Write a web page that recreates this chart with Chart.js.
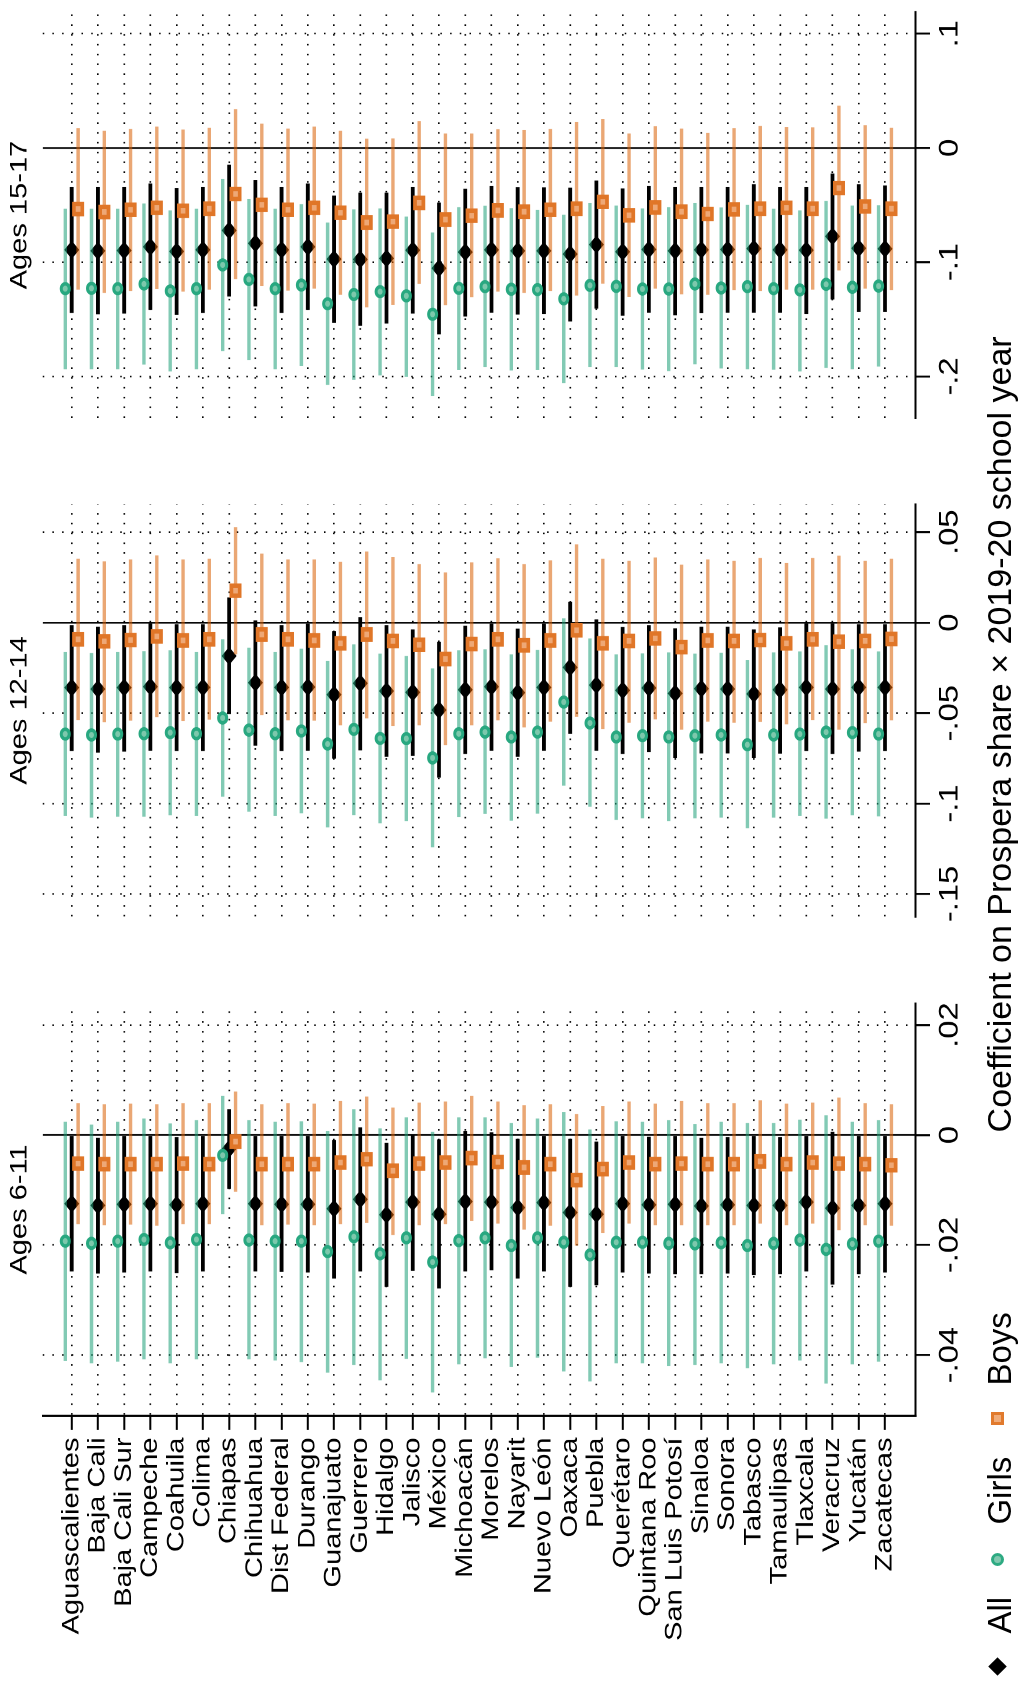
<!DOCTYPE html>
<html>
<head>
<meta charset="utf-8">
<title>Prospera coefficients by state</title>
<script src="https://cdn.jsdelivr.net/npm/chart.js@4.4.1/dist/chart.umd.min.js"></script>
<style>
  html, body { margin: 0; padding: 0; background: #fff; }
  body { width: 1025px; height: 1686px; overflow: hidden; position: relative;
         font-family: 'Liberation Sans', Arial, Helvetica, sans-serif; color: #000; }
  /* the figure is laid out landscape, then turned to read bottom-to-top */
  #panels { position: absolute; left: 0; top: 0; width: 1393.4px; height: 1025px;
            transform-origin: 0 0; transform: translateY(1686px) rotate(-90deg) scaleX(1.21); }
  #panels canvas { position: absolute; top: 0; }
  #overlay { position: absolute; left: 0; top: 0; width: 1686px; height: 1025px;
             transform-origin: 0 0; transform: translateY(1686px) rotate(-90deg); }
  #xtitle { position: absolute; left: 451.6px; width: 1000px; top: 981.7px; text-align: center;
            font-size: 34px; line-height: 34px; white-space: nowrap; }
  .lg { position: absolute; top: 982.6px; font-size: 33px; line-height: 33px; white-space: nowrap; }
  .mk { position: absolute; box-sizing: border-box; }
</style>
</head>
<body>
<div id="panels">
  <canvas id="c611" width="590" height="1025" style="left:0px"></canvas>
  <canvas id="c1214" width="400" height="1025" style="left:605px"></canvas>
  <canvas id="c1517" width="379" height="1025" style="left:1014px"></canvas>
</div>
<div id="overlay">
  <div id="xtitle">Coefficient on Prospera share × 2019-20 school year</div>
  <div class="mk" style="left:12.8px;top:990.5px;width:13px;height:13px;background:#000;transform:rotate(45deg)"></div>
  <div class="lg" style="left:52.5px">All</div>
  <div class="mk" style="left:120.2px;top:990.5px;width:13px;height:13px;border-radius:50%;background:rgb(130,200,175);border:3px solid rgb(45,170,130)"></div>
  <div class="lg" style="left:161.4px">Girls</div>
  <div class="mk" style="left:261.2px;top:990.5px;width:13px;height:13px;background:rgb(240,172,122);border:3.5px solid rgb(225,122,45)"></div>
  <div class="lg" style="left:300.4px">Boys</div>
</div>
<script>
const states = ['Aguascalientes', 'Baja Cali', 'Baja Cali Sur', 'Campeche', 'Coahuila', 'Colima',
  'Chiapas', 'Chihuahua', 'Dist Federal', 'Durango', 'Guanajuato', 'Guerrero', 'Hidalgo', 'Jalisco',
  'México', 'Michoacán', 'Morelos', 'Nayarit', 'Nuevo León', 'Oaxaca', 'Puebla', 'Querétaro',
  'Quintana Roo', 'San Luis Potosí', 'Sinaloa', 'Sonora', 'Tabasco', 'Tamaulipas', 'Tlaxcala',
  'Veracruz', 'Yucatán', 'Zacatecas'];

// Ages 6-11: point estimates and 95% CI bounds
const allEst611 = [-0.0125,-0.0128,-0.0126,-0.0125,-0.0127,-0.0125,-0.0025,-0.0125,-0.0126,-0.0126,-0.0134,-0.0117,-0.0145,-0.0122,-0.0144,-0.0121,-0.0122,-0.0132,-0.0123,-0.0141,-0.0144,-0.0125,-0.0127,-0.0126,-0.0129,-0.0127,-0.0128,-0.0128,-0.0122,-0.0133,-0.0128,-0.0125];
const allLo611 = [-0.0248,-0.0252,-0.0250,-0.0248,-0.0251,-0.0248,-0.0098,-0.0248,-0.0249,-0.0250,-0.0261,-0.0248,-0.0276,-0.0247,-0.0279,-0.0248,-0.0246,-0.0261,-0.0248,-0.0276,-0.0273,-0.0250,-0.0252,-0.0253,-0.0253,-0.0252,-0.0255,-0.0253,-0.0248,-0.0272,-0.0253,-0.0250];
const allHi611 = [-0.0002,-0.0005,-0.0002,-0.0002,-0.0004,-0.0002,0.0047,-0.0002,-0.0002,-0.0002,-0.0009,0.0014,-0.0014,0.0001,-0.0008,0.0007,0.0005,-0.0007,-0.0002,-0.0007,-0.0012,-0.0002,-0.0003,-0.0002,-0.0005,-0.0004,-0.0002,-0.0004,-0.0002,0.0006,-0.0002,-0.0002];
const girlsEst611 = [-0.0193,-0.0197,-0.0193,-0.0190,-0.0196,-0.0190,-0.0037,-0.0191,-0.0193,-0.0193,-0.0212,-0.0185,-0.0216,-0.0187,-0.0231,-0.0192,-0.0187,-0.0201,-0.0187,-0.0195,-0.0218,-0.0195,-0.0195,-0.0197,-0.0198,-0.0196,-0.0201,-0.0197,-0.0191,-0.0208,-0.0198,-0.0193];
const girlsLo611 = [-0.0411,-0.0415,-0.0412,-0.0408,-0.0415,-0.0408,-0.0144,-0.0408,-0.0410,-0.0413,-0.0432,-0.0418,-0.0446,-0.0407,-0.0468,-0.0417,-0.0406,-0.0422,-0.0405,-0.0430,-0.0448,-0.0415,-0.0415,-0.0420,-0.0418,-0.0415,-0.0424,-0.0417,-0.0410,-0.0452,-0.0417,-0.0412];
const girlsHi611 = [0.0024,0.0019,0.0024,0.0030,0.0021,0.0027,0.0071,0.0027,0.0024,0.0025,0.0007,0.0047,0.0012,0.0032,0.0006,0.0032,0.0032,0.0022,0.0030,0.0042,0.0010,0.0025,0.0024,0.0027,0.0020,0.0024,0.0022,0.0022,0.0028,0.0036,0.0024,0.0027];
const boysEst611 = [-0.0052,-0.0053,-0.0053,-0.0053,-0.0052,-0.0053,-0.0012,-0.0053,-0.0053,-0.0053,-0.0050,-0.0044,-0.0065,-0.0052,-0.0050,-0.0042,-0.0049,-0.0059,-0.0053,-0.0082,-0.0062,-0.0050,-0.0053,-0.0052,-0.0053,-0.0053,-0.0048,-0.0053,-0.0050,-0.0052,-0.0053,-0.0055];
const boysLo611 = [-0.0162,-0.0164,-0.0163,-0.0165,-0.0162,-0.0162,-0.0103,-0.0164,-0.0163,-0.0164,-0.0162,-0.0160,-0.0182,-0.0164,-0.0162,-0.0156,-0.0161,-0.0172,-0.0165,-0.0201,-0.0178,-0.0161,-0.0164,-0.0164,-0.0164,-0.0164,-0.0161,-0.0164,-0.0161,-0.0173,-0.0164,-0.0165];
const boysHi611 = [0.0058,0.0056,0.0057,0.0056,0.0058,0.0058,0.0079,0.0056,0.0058,0.0057,0.0062,0.0070,0.0050,0.0059,0.0061,0.0071,0.0061,0.0054,0.0056,0.0038,0.0053,0.0061,0.0057,0.0062,0.0058,0.0058,0.0063,0.0057,0.0059,0.0068,0.0058,0.0056];

// Ages 12-14
const allEst1214 = [-0.0359,-0.0367,-0.0359,-0.0354,-0.0359,-0.0358,-0.0184,-0.0332,-0.0358,-0.0356,-0.0398,-0.0335,-0.0378,-0.0385,-0.0483,-0.0371,-0.0354,-0.0387,-0.0358,-0.0247,-0.0345,-0.0374,-0.0361,-0.0391,-0.0365,-0.0367,-0.0394,-0.0371,-0.0358,-0.0367,-0.0358,-0.0358];
const allLo1214 = [-0.0710,-0.0719,-0.0713,-0.0708,-0.0710,-0.0710,-0.0505,-0.0680,-0.0710,-0.0708,-0.0752,-0.0706,-0.0741,-0.0737,-0.0857,-0.0726,-0.0708,-0.0741,-0.0708,-0.0614,-0.0708,-0.0726,-0.0715,-0.0748,-0.0723,-0.0723,-0.0748,-0.0724,-0.0710,-0.0726,-0.0713,-0.0710];
const allHi1214 = [-0.0013,-0.0022,-0.0013,-0.0004,-0.0009,-0.0009,0.0140,0.0013,-0.0013,-0.0006,-0.0046,0.0031,-0.0013,-0.0037,-0.0105,-0.0017,-0.0006,-0.0033,-0.0006,0.0116,0.0018,-0.0024,-0.0013,-0.0031,-0.0022,-0.0022,-0.0037,-0.0026,-0.0004,-0.0004,-0.0009,-0.0009];
const girlsEst1214 = [-0.0616,-0.0621,-0.0616,-0.0614,-0.0608,-0.0614,-0.0527,-0.0594,-0.0614,-0.0599,-0.0671,-0.0590,-0.0640,-0.0641,-0.0748,-0.0614,-0.0605,-0.0632,-0.0605,-0.0439,-0.0555,-0.0632,-0.0625,-0.0632,-0.0625,-0.0621,-0.0675,-0.0621,-0.0616,-0.0605,-0.0608,-0.0616];
const girlsLo1214 = [-0.1069,-0.1078,-0.1073,-0.1073,-0.1065,-0.1069,-0.0962,-0.1045,-0.1069,-0.1054,-0.1132,-0.1064,-0.1110,-0.1097,-0.1242,-0.1076,-0.1058,-0.1095,-0.1056,-0.0901,-0.1018,-0.1091,-0.1082,-0.1097,-0.1082,-0.1078,-0.1137,-0.1078,-0.1069,-0.1084,-0.1065,-0.1071];
const girlsHi1214 = [-0.0162,-0.0168,-0.0162,-0.0157,-0.0153,-0.0162,-0.0092,-0.0138,-0.0162,-0.0144,-0.0212,-0.0120,-0.0171,-0.0184,-0.0253,-0.0153,-0.0147,-0.0175,-0.0151,0.0024,-0.0087,-0.0175,-0.0170,-0.0164,-0.0171,-0.0166,-0.0206,-0.0164,-0.0159,-0.0124,-0.0147,-0.0159];
const boysEst1214 = [-0.0092,-0.0103,-0.0096,-0.0076,-0.0098,-0.0092,0.0177,-0.0065,-0.0092,-0.0098,-0.0114,-0.0065,-0.0101,-0.0122,-0.0201,-0.0118,-0.0092,-0.0125,-0.0098,-0.0042,-0.0114,-0.0101,-0.0087,-0.0135,-0.0098,-0.0101,-0.0096,-0.0114,-0.0092,-0.0105,-0.0101,-0.0090];
const boysLo1214 = [-0.0538,-0.0551,-0.0542,-0.0522,-0.0544,-0.0536,-0.0175,-0.0511,-0.0540,-0.0542,-0.0568,-0.0529,-0.0571,-0.0568,-0.0678,-0.0568,-0.0540,-0.0579,-0.0547,-0.0520,-0.0588,-0.0553,-0.0535,-0.0592,-0.0547,-0.0553,-0.0549,-0.0562,-0.0538,-0.0592,-0.0555,-0.0540];
const boysHi1214 = [0.0354,0.0339,0.0350,0.0372,0.0350,0.0354,0.0529,0.0382,0.0350,0.0350,0.0337,0.0394,0.0363,0.0324,0.0278,0.0334,0.0356,0.0324,0.0345,0.0433,0.0354,0.0343,0.0361,0.0321,0.0350,0.0343,0.0358,0.0330,0.0358,0.0371,0.0343,0.0354];

// Ages 15-17
const allEst1517 = [-0.0892,-0.0901,-0.0898,-0.0866,-0.0906,-0.0892,-0.0722,-0.0835,-0.0892,-0.0866,-0.0973,-0.0976,-0.0967,-0.0895,-0.1053,-0.0912,-0.0892,-0.0901,-0.0901,-0.0929,-0.0846,-0.0909,-0.0889,-0.0901,-0.0892,-0.0889,-0.0881,-0.0892,-0.0895,-0.0774,-0.0878,-0.0883];
const allLo1517 = [-0.1445,-0.1456,-0.1450,-0.1419,-0.1462,-0.1445,-0.1301,-0.1387,-0.1445,-0.1419,-0.1531,-0.1557,-0.1537,-0.1450,-0.1632,-0.1476,-0.1442,-0.1459,-0.1453,-0.1519,-0.1407,-0.1468,-0.1442,-0.1465,-0.1447,-0.1442,-0.1442,-0.1442,-0.1453,-0.1327,-0.1436,-0.1436];
const allHi1517 = [-0.0340,-0.0340,-0.0340,-0.0311,-0.0351,-0.0340,-0.0147,-0.0282,-0.0340,-0.0311,-0.0417,-0.0391,-0.0391,-0.0340,-0.0478,-0.0357,-0.0334,-0.0342,-0.0345,-0.0348,-0.0285,-0.0354,-0.0334,-0.0340,-0.0340,-0.0340,-0.0317,-0.0340,-0.0340,-0.0224,-0.0317,-0.0328];
const girlsEst1517 = [-0.1232,-0.1229,-0.1232,-0.1191,-0.1252,-0.1232,-0.1024,-0.1151,-0.1232,-0.1200,-0.1364,-0.1283,-0.1258,-0.1295,-0.1456,-0.1229,-0.1214,-0.1237,-0.1240,-0.1321,-0.1203,-0.1212,-0.1235,-0.1235,-0.1191,-0.1226,-0.1214,-0.1232,-0.1243,-0.1194,-0.1220,-0.1209];
const girlsLo1517 = [-0.1937,-0.1937,-0.1937,-0.1896,-0.1957,-0.1937,-0.1778,-0.1856,-0.1937,-0.1908,-0.2075,-0.2029,-0.1991,-0.2003,-0.2173,-0.1945,-0.1919,-0.1948,-0.1945,-0.2058,-0.1919,-0.1919,-0.1940,-0.1954,-0.1894,-0.1931,-0.1937,-0.1942,-0.1957,-0.1925,-0.1937,-0.1914];
const girlsHi1517 = [-0.0532,-0.0532,-0.0532,-0.0486,-0.0547,-0.0532,-0.0271,-0.0446,-0.0532,-0.0492,-0.0653,-0.0538,-0.0529,-0.0601,-0.0740,-0.0518,-0.0506,-0.0527,-0.0541,-0.0584,-0.0483,-0.0504,-0.0529,-0.0518,-0.0483,-0.0521,-0.0498,-0.0532,-0.0547,-0.0463,-0.0504,-0.0501];
const boysEst1517 = [-0.0535,-0.0561,-0.0541,-0.0524,-0.0550,-0.0532,-0.0403,-0.0498,-0.0541,-0.0524,-0.0567,-0.0653,-0.0645,-0.0481,-0.0627,-0.0593,-0.0547,-0.0558,-0.0541,-0.0532,-0.0472,-0.0590,-0.0521,-0.0558,-0.0578,-0.0538,-0.0532,-0.0524,-0.0532,-0.0351,-0.0512,-0.0532];
const boysLo1517 = [-0.1240,-0.1269,-0.1252,-0.1235,-0.1258,-0.1240,-0.1148,-0.1209,-0.1249,-0.1232,-0.1286,-0.1396,-0.1373,-0.1191,-0.1376,-0.1306,-0.1258,-0.1269,-0.1252,-0.1292,-0.1188,-0.1304,-0.1232,-0.1281,-0.1286,-0.1246,-0.1252,-0.1240,-0.1240,-0.1073,-0.1232,-0.1246];
const boysHi1517 = [0.0173,0.0150,0.0167,0.0187,0.0161,0.0176,0.0340,0.0213,0.0170,0.0187,0.0150,0.0081,0.0083,0.0236,0.0127,0.0127,0.0164,0.0158,0.0167,0.0227,0.0253,0.0127,0.0190,0.0170,0.0132,0.0173,0.0193,0.0184,0.0181,0.0371,0.0199,0.0176];

// axis ticks for each age group
const ticks611 = [-0.04, -0.02, 0, 0.02];
const ticks1214 = [-0.15, -0.1, -0.05, 0, 0.05];
const ticks1517 = [-0.2, -0.1, 0, 0.1];

const FONT = "'Liberation Sans', Arial, Helvetica, sans-serif";
Chart.defaults.font.family = FONT;
Chart.defaults.color = '#000';
Chart.defaults.animation = false;

const Y_MIN = -1.105, Y_MAX = 32.17;   // state positions, 0 = Aguascalientes
const SHIFT = 0.245;                   // girls above, boys below the "all" marker

// stata style labels: .05, -.1
const fmt = v => (v === 0 ? '0' : String(v).replace('0.', '.'));

function ciBars(lo, hi, shift, color, width, order) {
  return {
    type: 'bar', indexAxis: 'y', grouped: false, order,
    data: lo.map((v, i) => ({ y: i + shift, x: [v, hi[i]] })),
    backgroundColor: color, borderWidth: 0, maxBarThickness: width
  };
}

function markers(est, shift, style, radius, fill, stroke, bw, order) {
  return {
    type: 'scatter', order,
    data: est.map((v, i) => ({ x: v, y: i + shift })),
    pointStyle: style, pointRadius: radius, pointHoverRadius: radius,
    pointBackgroundColor: fill, pointBorderColor: stroke, pointBorderWidth: bw
  };
}

function makePanel(id, title, all, girls, boys, xMin, xMax, xTicks, showStates, pad) {
  const datasets = [
    { type: 'line', order: 10, data: [{ x: 0, y: Y_MIN }, { x: 0, y: Y_MAX }],
      borderColor: '#000', borderWidth: 1.4, pointRadius: 0 },
    ciBars(all[1], all[2], 0, '#000', 3.8, 6),
    markers(all[0], 0, 'rectRot', 7.5, '#000', '#000', 0, 5),
    ciBars(girls[1], girls[2], -SHIFT, 'rgba(27,158,119,0.55)', 3.4, 4),
    markers(girls[0], -SHIFT, 'circle', 4.0, 'rgb(125,200,172)', 'rgb(40,168,128)', 3.0, 3),
    ciBars(boys[1], boys[2], SHIFT, 'rgba(217,95,2,0.55)', 3.4, 2),
    markers(boys[0], SHIFT, 'rect', 5.9, 'rgb(238,168,118)', 'rgb(224,118,40)', 3.7, 1)
  ];

  return new Chart(document.getElementById(id), {
    type: 'scatter',
    data: { datasets },
    options: {
      responsive: false,
      devicePixelRatio: 2,
      events: [],
      layout: { padding: { left: pad[0], right: pad[1], top: 0, bottom: 0 } },
      plugins: {
        legend: { display: false },
        tooltip: { enabled: false },
        title: {
          display: true, text: title, fullSize: false, color: '#000',
          font: { size: 24, weight: 'normal' }, padding: { top: 5.7, bottom: 8.2 }
        }
      },
      scales: {
        x: {
          type: 'linear', min: xMin, max: xMax, offset: false,
          afterBuildTicks: s => { s.ticks = xTicks.map(v => ({ value: v })); },
          afterFit: s => { s.height = 109.3; s.paddingLeft = 0; s.paddingRight = 0; },
          ticks: { autoSkip: false, maxRotation: 0, minRotation: 0, padding: 3.8,
                   font: { size: 27 }, callback: v => fmt(v) },
          grid: {
            offset: false,
            color: c => (c.tick && c.tick.value === 0 ? 'rgba(0,0,0,0)' : '#000'),
            lineWidth: 1.3, tickLength: 14.3, tickWidth: 1.65, tickColor: '#000'
          },
          border: { display: true, color: '#000', width: 2, dash: [1.5, 8.2] }
        },
        y: {
          type: 'linear', reverse: true, min: Y_MIN, max: Y_MAX, offset: false,
          afterBuildTicks: s => { s.ticks = states.map((_, i) => ({ value: i })); },
          afterFit: s => { s.width = showStates ? 223.4 : 0; s.paddingTop = 0; s.paddingBottom = 0; },
          ticks: { display: showStates, autoSkip: false, padding: 6.2,
                   font: { size: 24 }, callback: v => states[v] },
          grid: {
            offset: false, color: '#000', lineWidth: 1.6,
            drawTicks: showStates, tickLength: 11.8, tickWidth: 2, tickColor: '#000'
          },
          border: { display: showStates, color: '#000', width: 1.65, dash: [1.3, 6.8] }
        }
      }
    }
  });
}

makePanel('c611', 'Ages 6-11',
  [allEst611, allLo611, allHi611], [girlsEst611, girlsLo611, girlsHi611], [boysEst611, boysLo611, boysHi611],
  -0.051036, 0.023945, ticks611, true, [0, 25.8]);
makePanel('c1214', 'Ages 12-14',
  [allEst1214, allLo1214, allHi1214], [girlsEst1214, girlsLo1214, girlsHi1214], [boysEst1214, boysLo1214, boysHi1214],
  -0.162611, 0.065487, ticks1214, false, [30.8, 28.4]);
makePanel('c1517', 'Ages 15-17',
  [allEst1517, allLo1517, allHi1517], [girlsEst1517, girlsLo1517, girlsHi1517], [boysEst1517, boysLo1517, boysHi1517],
  -0.236466, 0.118966, ticks1517, false, [33.9, 4.3]);
</script>
</body>
</html>
